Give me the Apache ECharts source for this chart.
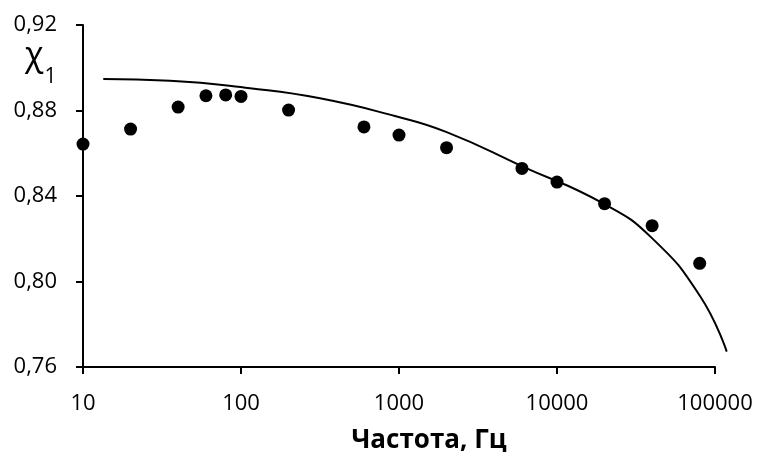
<!DOCTYPE html>
<html><head><meta charset="utf-8">
<script src="https://cdn.jsdelivr.net/npm/echarts@6/dist/echarts.min.js"></script>
<style>html,body{margin:0;padding:0;background:#fff}#c{width:757px;height:452px}</style>
</head><body><div id="c"></div>
<script>
// Measured points
const freqs = [10, 20, 40, 60, 80, 100, 200, 600, 1000, 2000, 6000, 10000, 20000, 40000, 80000];
const chiMeasured = [0.8643, 0.8713, 0.8816, 0.8869, 0.8873, 0.8866, 0.8802, 0.8723, 0.8685, 0.8626, 0.8529, 0.8465, 0.8364, 0.8261, 0.8085];
// Fitted curve
const curveFreqs = [13.44, 35.5, 114, 316, 943, 2004, 5978, 19840, 39770, 80350, 118640];
const curveChi = [0.8947, 0.8939, 0.8904, 0.8857, 0.8774, 0.8699, 0.8540, 0.8363, 0.8204, 0.7932, 0.7672];
const yTicks = [0.76, 0.80, 0.84, 0.88, 0.92];
const xTicks = [10, 100, 1000, 10000, 100000];
const xCurveMax = 125892.5; // curve runs a little past the last tick

const FONT = 'Open Sans';
const L = 83, T = 25, B = 85, W = 632;
const Wc = W * Math.log10(xCurveMax / xTicks[0]) / Math.log10(xTicks[xTicks.length - 1] / xTicks[0]);

const chart = echarts.init(document.getElementById('c'));
chart.setOption({
  animation: false,
  backgroundColor: '#fff',
  title: {
    text: '{a|χ}{b|1}',
    left: 20, top: 34,
    textStyle: { fontWeight: 'normal', rich: {
      a: { fontFamily: FONT, fontSize: 34, fontWeight: 'normal', color: '#000', lineHeight: 40, verticalAlign: 'top' },
      b: { fontFamily: FONT, fontSize: 21, fontWeight: 'normal', color: '#000', lineHeight: 21, verticalAlign: 'top', padding: [28, 0, 0, 1] }
    } }
  },
  grid: [
    { left: L, width: W, top: T, bottom: B, outerBoundsMode: 'none', containLabel: false },
    { left: L, width: Wc, top: T, bottom: B, outerBoundsMode: 'none', containLabel: false }
  ],
  xAxis: [{
    type: 'log', logBase: 10, min: xTicks[0], max: xTicks[xTicks.length - 1], gridIndex: 0,
    name: 'Частота, Гц', nameLocation: 'middle', nameGap: 61,
    nameTextStyle: { fontFamily: FONT, fontSize: 26, fontWeight: 'bold', color: '#000', padding: [0, 0, 0, 60] },
    axisLine: { lineStyle: { color: '#000', width: 2 } },
    axisTick: { show: true, length: 7, lineStyle: { color: '#000', width: 2 } },
    minorTick: { show: false },
    splitLine: { show: false },
    axisLabel: { fontFamily: FONT, fontSize: 22, color: '#000', margin: 26,
      formatter: v => String(Math.round(v)) }
  }, {
    type: 'log', logBase: 10, min: xTicks[0], max: xCurveMax, gridIndex: 1, show: false
  }],
  yAxis: [{
    type: 'value', min: yTicks[0], max: yTicks[yTicks.length - 1], interval: 0.04, gridIndex: 0,
    axisLine: { show: true, lineStyle: { color: '#000', width: 2 } },
    axisTick: { show: true, length: 7, lineStyle: { color: '#000', width: 2 } },
    splitLine: { show: false },
    axisLabel: { fontFamily: FONT, fontSize: 22, color: '#000', margin: 26,
      formatter: v => v.toFixed(2).replace('.', ',') }
  }, {
    type: 'value', min: yTicks[0], max: yTicks[yTicks.length - 1], gridIndex: 1, show: false
  }],
  series: [
    {
      type: 'line', xAxisIndex: 1, yAxisIndex: 1, smooth: 0.5,
      showSymbol: false, symbol: 'none',
      lineStyle: { color: '#000', width: 2 },
      data: curveFreqs.map((f, i) => [f, curveChi[i]]), z: 2
    },
    {
      type: 'scatter', xAxisIndex: 0, yAxisIndex: 0, symbol: 'circle', symbolSize: 13, clip: false,
      itemStyle: { color: '#000', opacity: 1 },
      data: freqs.map((f, i) => [f, chiMeasured[i]]), z: 3
    }
  ]
});
</script></body></html>
